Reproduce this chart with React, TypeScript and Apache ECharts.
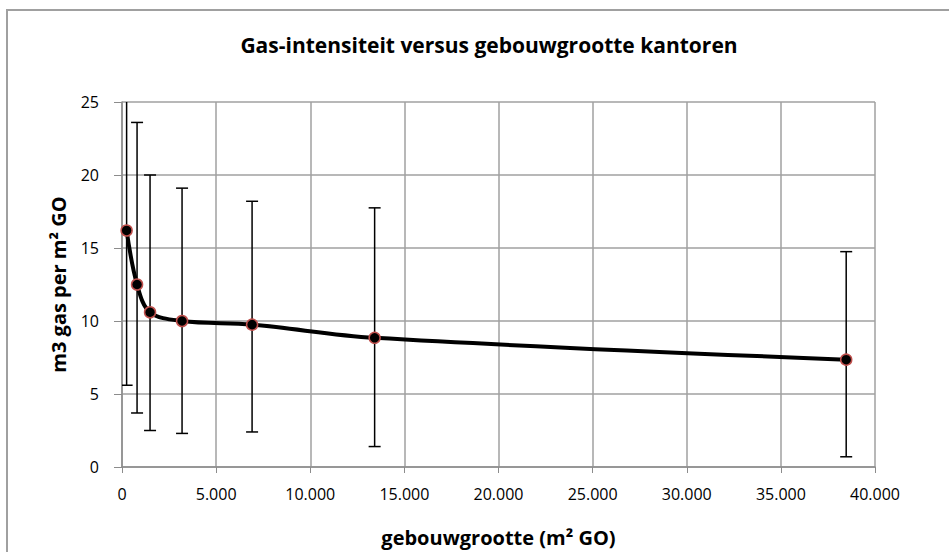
import React, { useEffect, useRef } from "react";
import * as echarts from "echarts";

const sizes = [245, 800, 1490, 3190, 6910, 13420, 38470];
const intensity = [16.2, 12.5, 10.6, 10.0, 9.75, 8.85, 7.35];
const upper = [26.0, 23.6, 20.0, 19.1, 18.2, 17.75, 14.75];
const lower = [5.6, 3.7, 2.5, 2.3, 2.4, 1.4, 0.7];

const FONT = "'Open Sans', Lato, sans-serif";

export default function App() {
  const ref = useRef<HTMLDivElement>(null);
  useEffect(() => {
    if (!ref.current) return;
    const chart = echarts.init(ref.current, null, { renderer: "svg" });
    const lineData = sizes.map((s, i) => [s, intensity[i]]);
    const errData = sizes.map((s, i) => [s, lower[i], upper[i]]);
    chart.setOption({
      animation: false,
      backgroundColor: "#ffffff",
      title: {
        text: "Gas-intensiteit versus gebouwgrootte kantoren",
        left: 484,
        textAlign: "center",
        top: 29,
        textStyle: { fontFamily: FONT, fontSize: 21, fontWeight: "bold", color: "#000" },
      },
      graphic: [
        {
          type: "rect",
          shape: { x: 7, y: 10, width: 1000, height: 600 },
          style: { fill: "none", stroke: "#a0a0a0", lineWidth: 2 },
          silent: true,
        },
      ],
      grid: { left: 122, right: 74, top: 102, bottom: 84 },
      xAxis: {
        type: "value",
        min: 0,
        max: 40000,
        interval: 5000,
        name: "gebouwgrootte (m² GO)",
        nameLocation: "middle",
        nameGap: 60,
        nameTextStyle: { fontFamily: FONT, fontSize: 20, fontWeight: "bold", color: "#000" },
        axisLine: { show: true, lineStyle: { color: "#8c8c8c", width: 1.5 } },
        axisTick: { show: true, length: 6, lineStyle: { color: "#8c8c8c" } },
        axisLabel: {
          fontFamily: FONT,
          fontSize: 16,
          color: "#000",
          margin: 19,
          formatter: (v: number) => (v === 0 ? "0" : v.toLocaleString("nl-NL")),
        },
        splitLine: { show: true, lineStyle: { color: "#a0a0a0", width: 1.5 } },
      },
      yAxis: {
        type: "value",
        min: 0,
        max: 25,
        interval: 5,
        name: "m3 gas per m² GO",
        nameLocation: "middle",
        nameGap: 54,
        nameTextStyle: { fontFamily: FONT, fontSize: 20, fontWeight: "bold", color: "#000" },
        axisLine: { show: true, lineStyle: { color: "#8c8c8c", width: 1.5 } },
        axisTick: { show: true, length: 8, lineStyle: { color: "#8c8c8c" } },
        axisLabel: { fontFamily: FONT, fontSize: 16, color: "#000", margin: 23 },
        splitLine: { show: true, lineStyle: { color: "#a0a0a0", width: 1.5 } },
      },
      series: [
        {
          type: "custom",
          clip: true,
          z: 2,
          data: errData,
          encode: { x: 0, y: [1, 2] },
          renderItem: (params: any, api: any) => {
            const x = api.value(0);
            const lo = api.coord([x, api.value(1)]);
            const hi = api.coord([x, api.value(2)]);
            const cs = params.coordSys;
            const top = Math.max(hi[1], cs.y - 2);
            const cap = 6;
            const children: any[] = [
              { type: "line", shape: { x1: lo[0], y1: lo[1], x2: lo[0], y2: top }, style: { stroke: "#000", lineWidth: 1.5 } },
              { type: "line", shape: { x1: lo[0] - cap, y1: lo[1], x2: lo[0] + cap, y2: lo[1] }, style: { stroke: "#000", lineWidth: 1.5 } },
            ];
            if (hi[1] >= cs.y) {
              children.push({ type: "line", shape: { x1: hi[0] - cap, y1: hi[1], x2: hi[0] + cap, y2: hi[1] }, style: { stroke: "#000", lineWidth: 1.5 } });
            }
            return { type: "group", children };
          },
        },
        {
          type: "line",
          z: 3,
          data: lineData,
          smooth: 0.35,
          lineStyle: { color: "#000", width: 4 },
          symbol: "circle",
          symbolSize: 11,
          itemStyle: { color: "#000", borderColor: "#c0504d", borderWidth: 1.5 },
        },
      ],
    });
    return () => chart.dispose();
  }, []);
  return <div ref={ref} style={{ width: 949, height: 552, position: "absolute", left: 0, top: 0 }} />;
}
